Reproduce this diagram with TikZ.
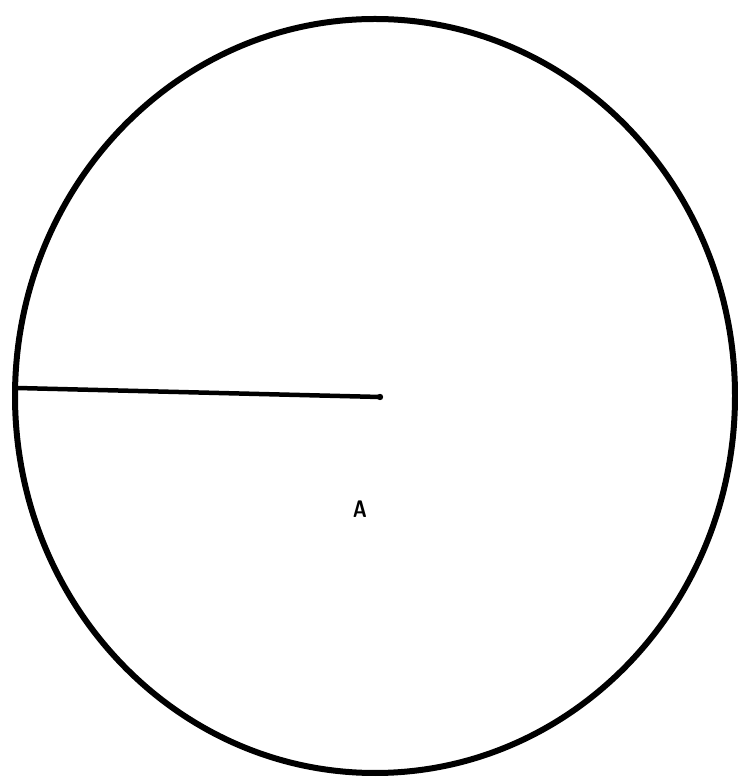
\documentclass[tikz,border=0pt]{standalone}
\begin{document}
\begin{tikzpicture}[x=1pt,y=1pt,
  rim/.style={line width=6pt},
  radius line/.style={line width=4.5pt, line cap=round},
  lbl/.style={font=\fontsize{24}{26}\selectfont\sffamily\bfseries, inner sep=0pt, xscale=0.8}]
\useasboundingbox (0,0) rectangle (738,779);
\coordinate (c) at (375,383);
\draw[rim] (c) ellipse [x radius=360, y radius=377];
\coordinate (edge) at (17,391);
\coordinate (ctr) at (380,382);
\draw[radius line] (edge) -- (ctr);
\fill (ctr) circle (3.2pt);
\node[lbl] (A) at (360,270) {A};
\end{tikzpicture}
\end{document}
